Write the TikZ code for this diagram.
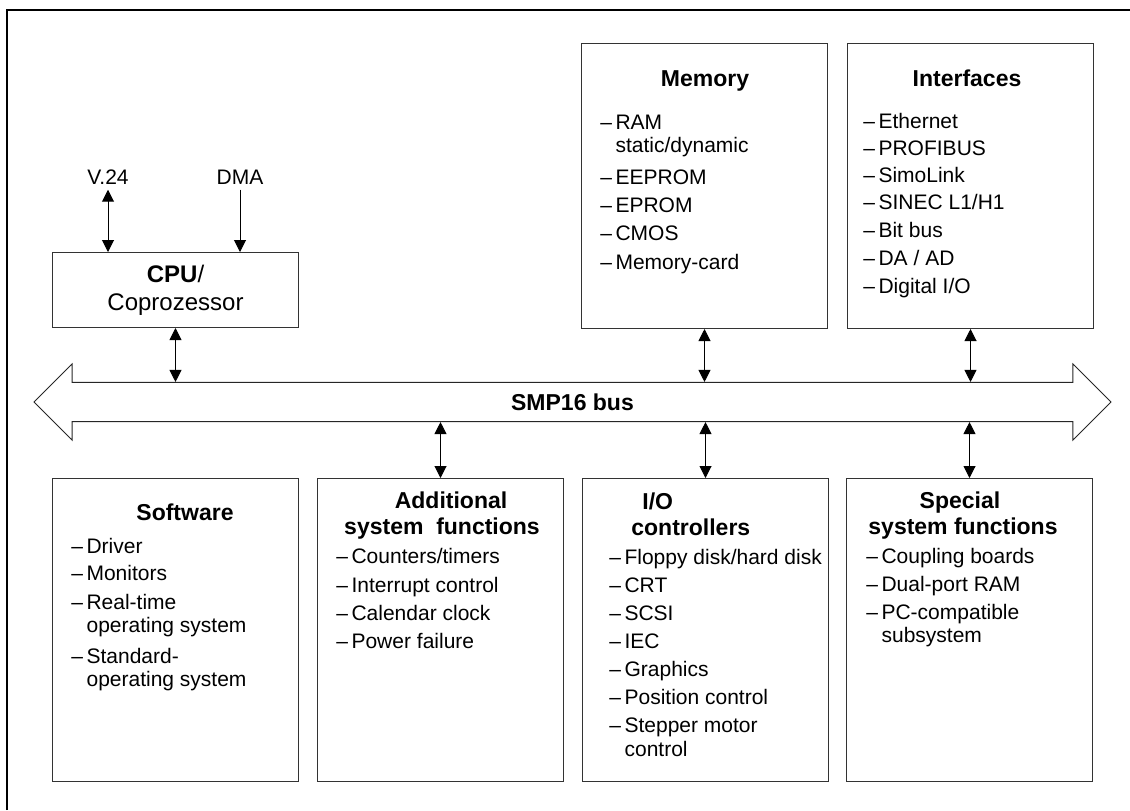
\documentclass[tikz,border=0pt]{standalone}
\usepackage{fontspec}
\setmainfont{Liberation Sans}
\usetikzlibrary{arrows.meta,shapes.arrows}

\newcommand{\dsh}{--\,}
\newcommand{\ind}{\phantom{--\,}}

\begin{document}
\begin{tikzpicture}[x=0.5pt,y=-0.5pt,
    blk/.style={draw=black!80,line width=0.5pt,minimum width=123pt,inner sep=0pt,anchor=north west},
    hd/.style={font=\bfseries\fontsize{11.5}{14}\selectfont,inner sep=0pt,anchor=base},
    itm/.style={font=\fontsize{10.5}{12}\selectfont,inner sep=0pt,anchor=base west},
    tip/.style={Triangle[width=6pt,length=6pt]},
    lnk/.style={line width=0.5pt,-{Triangle[width=6pt,length=6pt]}},
    dlnk/.style={line width=0.5pt,{Triangle[width=6pt,length=6pt]}-{Triangle[width=6pt,length=6pt]}}]
        \useasboundingbox (0,0) rectangle (1130,810);
        \draw [line width=0.6pt] (7,810) -- (7,10) -- (1130,10);
        %boxes
        \node [blk,minimum height=37.5pt,font=\fontsize{12}{14}\selectfont,align=center] (cpu) at (52,252) {\textbf{CPU}/\\Coprozessor};
        \node [blk,minimum height=142.5pt] (mem) at (581,43) {};
        \node [blk,minimum height=142.5pt] (ifc) at (847,43) {};
        \node [blk,minimum height=151.5pt] (sw) at (52,478) {};
        \node [blk,minimum height=151.5pt] (add) at (317,478) {};
        \node [blk,minimum height=151.5pt] (io) at (582,478) {};
        \node [blk,minimum height=151.5pt] (spec) at (846,478) {};
        %bus
        \node [double arrow,draw=black!85,line width=0.5pt,minimum height=538.5pt,minimum width=37.5pt,
            double arrow head extend=9.25pt,inner xsep=0pt,inner ysep=5.3pt,
            font=\bfseries\fontsize{11.5}{14}\selectfont] (bus) at (572.5,402) {SMP16 bus};
        \node [font=\fontsize{10.5}{12}\selectfont,inner sep=2.5pt] (v24) at (108,177) {V.24};
        \node [font=\fontsize{10.5}{12}\selectfont,inner sep=2.5pt] (dma) at (240,177) {DMA};
        %links
        \draw [dlnk] (v24.south) -- (v24.south |- cpu.north);
        \draw [lnk] (dma.south) -- (dma.south |- cpu.north);
        \draw [dlnk] (cpu.south) -- (cpu.south |- bus.north);
        \draw [dlnk] (mem.south) -- (mem.south |- bus.north);
        \draw [dlnk] (ifc.south) -- (ifc.south |- bus.north);
        \draw [dlnk] (bus.south -| add.north) -- (add.north);
        \draw [dlnk] (bus.south -| io.north) -- (io.north);
        \draw [dlnk] (bus.south -| spec.north) -- (spec.north);
        %memory
        \node [hd] (memT) at (705,86) {Memory};
        \node [itm] (m1) at (600,129) {\dsh RAM};
        \node [itm] (m2) at (600,152) {\ind static/dynamic};
        \node [itm] (m3) at (600,184) {\dsh EEPROM};
        \node [itm] (m4) at (600,212) {\dsh EPROM};
        \node [itm] (m5) at (600,240) {\dsh CMOS};
        \node [itm] (m6) at (600,269) {\dsh Memory-card};
        %interfaces
        \node [hd] (ifcT) at (967,86) {Interfaces};
        \node [itm] (i1) at (863,128) {\dsh Ethernet};
        \node [itm] (i2) at (863,155) {\dsh PROFIBUS};
        \node [itm] (i3) at (863,182) {\dsh SimoLink};
        \node [itm] (i4) at (863,209) {\dsh SINEC L1/H1};
        \node [itm] (i5) at (863,237) {\dsh Bit bus};
        \node [itm] (i6) at (863,265) {\dsh DA / AD};
        \node [itm] (i7) at (863,293) {\dsh Digital I/O};
        %software
        \node [hd] (swT) at (185,520) {Software};
        \node [itm] (s1) at (71,553) {\dsh Driver};
        \node [itm] (s2) at (71,580) {\dsh Monitors};
        \node [itm] (s3) at (71,609) {\dsh Real-time};
        \node [itm] (s4) at (71,632) {\ind operating system};
        \node [itm] (s5) at (71,663) {\dsh Standard-};
        \node [itm] (s6) at (71,686) {\ind operating system};
        %additional
        \node [hd] (addT1) at (451,508) {Additional};
        \node [hd] (addT2) at (442,534) {system\ \ functions};
        \node [itm] (a1) at (336,563) {\dsh Counters/timers};
        \node [itm] (a2) at (336,592) {\dsh Interrupt control};
        \node [itm] (a3) at (336,620) {\dsh Calendar clock};
        \node [itm] (a4) at (336,648) {\dsh Power failure};
        %i/o
        \node [hd,anchor=base west] (ioT1) at (642,509) {I/O};
        \node [hd,anchor=base west] (ioT2) at (631,535) {controllers};
        \node [itm] (o1) at (609,564) {\dsh Floppy disk/hard disk};
        \node [itm] (o2) at (609,592) {\dsh CRT};
        \node [itm] (o3) at (609,620) {\dsh SCSI};
        \node [itm] (o4) at (609,648) {\dsh IEC};
        \node [itm] (o5) at (609,676) {\dsh Graphics};
        \node [itm] (o6) at (609,704) {\dsh Position control};
        \node [itm] (o7) at (609,732) {\dsh Stepper motor};
        \node [itm] (o8) at (609,756) {\ind control};
        %special
        \node [hd] (specT1) at (960,508) {Special};
        \node [hd] (specT2) at (963,534) {system functions};
        \node [itm] (p1) at (866,563) {\dsh Coupling boards};
        \node [itm] (p2) at (866,591) {\dsh Dual-port RAM};
        \node [itm] (p3) at (866,619) {\dsh PC-compatible};
        \node [itm] (p4) at (866,642) {\ind subsystem};
\end{tikzpicture}
\end{document}
